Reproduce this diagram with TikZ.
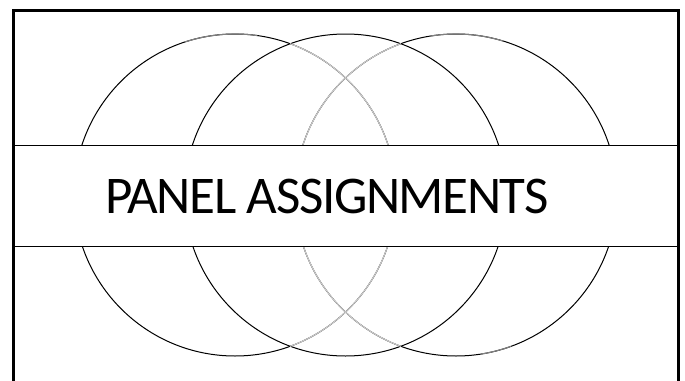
\documentclass[tikz,border=0pt]{standalone}
\usepackage{fontspec}
\setmainfont{Carlito}
\newfontfamily\titlefont[LetterSpace=-2.7]{Carlito}
\definecolor{lightarc}{gray}{0.80}
\definecolor{midarc}{gray}{0.50}
\tikzset{
  ring/.style={draw=black, line width=1pt},
  innerarc/.style={draw=lightarc, line width=1.1pt},
  toparc/.style={draw=midarc, line width=1.1pt},
  band/.style={draw=black, fill=white, line width=0.9pt},
  frame/.style={draw=black, line width=2.6pt},
  titletext/.style={font=\titlefont\fontsize{53}{60}\selectfont, inner sep=0pt}
}
\begin{document}
\begin{tikzpicture}[x=1pt,y=-1pt]
\useasboundingbox (0,0) rectangle (685,380);
% circles
\node[ring, circle, minimum size=322pt, inner sep=0pt] (cL) at (235,195) {};
\node[ring, circle, minimum size=322pt, inner sep=0pt] (cM) at (345.5,195) {};
\node[ring, circle, minimum size=322pt, inner sep=0pt] (cR) at (456,195) {};
% light inner arcs (pixel coords: negative angle = up)
\draw[innerarc] (cL.center) ++(-70:161) arc[start angle=-70, end angle=70, radius=161];
\draw[innerarc] (cR.center) ++(-110:161) arc[start angle=-110, end angle=-250, radius=161];
% soft grey tops
\draw[toparc] (cL.center) ++(-108:161) arc[start angle=-108, end angle=-82, radius=161];
\draw[toparc] (cR.center) ++(-99:161) arc[start angle=-99, end angle=-73, radius=161];
\draw[toparc] (cR.center) ++(81:161) arc[start angle=81, end angle=70, radius=161];
% band
\node[band, minimum width=666pt, minimum height=101pt, inner sep=0pt, anchor=north west] (bandbox) at (12,145) {};
\node[titletext] (title) at (327,196) {PANEL ASSIGNMENTS};
% frame
\coordinate (fbl) at (13.5,395);
\coordinate (ftl) at (13.5,10.5);
\coordinate (ftr) at (678.5,10.5);
\coordinate (fbr) at (678.5,395);
\draw[frame] (fbl) -- (ftl) -- (ftr) -- (fbr);
\end{tikzpicture}
\end{document}
